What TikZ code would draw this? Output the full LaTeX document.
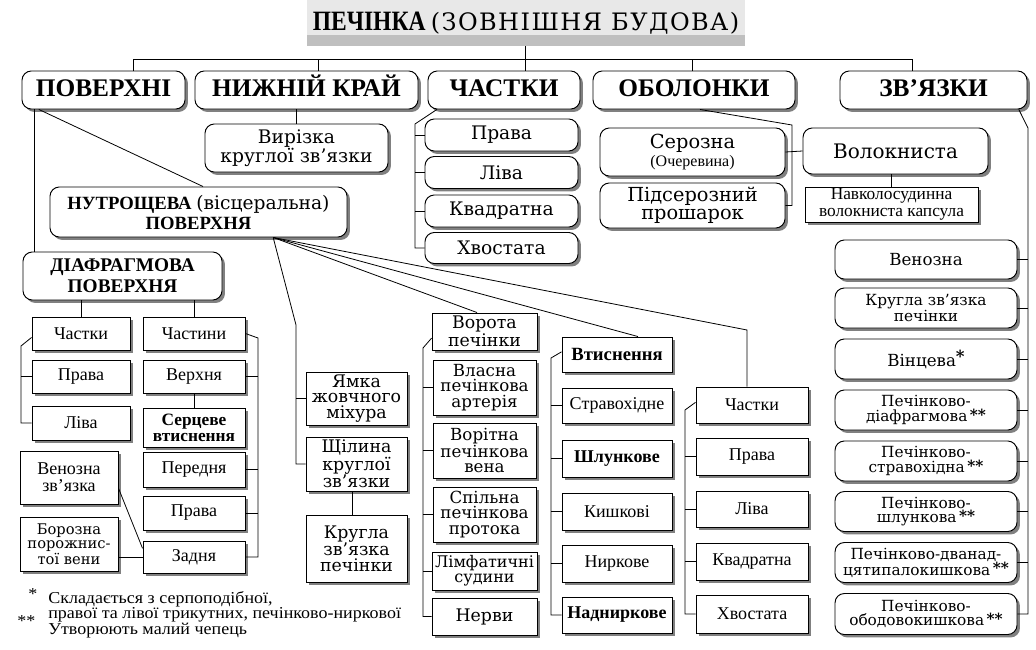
\documentclass[tikz,border=0pt]{standalone}
\usepackage{fontspec}
\setmainfont{Liberation Serif}
\newfontfamily\widefont{DejaVu Serif}
\newfontfamily\titlefont[FakeStretch=0.84]{Liberation Serif}
\newfontfamily\titlewide[LetterSpace=6]{DejaVu Serif}
\newfontfamily\notefont[FakeStretch=1.08]{Liberation Serif}
\usetikzlibrary{shadows}
\newcommand\px{0.75pt}
\newcommand\twostar{\raisebox{1pt}{\bfseries\,**}}

\begin{document}
\begin{tikzpicture}[x=\px, y=-\px,
    shade/.style={drop shadow={shadow xshift=2.2pt, shadow yshift=-2.2pt,
                  fill=black!50, opacity=1}},
    rbox/.style={draw, rounded corners=7pt, fill=white, line width=0.7pt,
                 inner sep=0pt, align=center, shade},
    sbox/.style={draw, fill=white, line width=0.7pt,
                 inner sep=0pt, align=center, shade},
    topbox/.style={rbox, font=\fontsize{19}{21}\selectfont\bfseries,
                   minimum height=38*\px, text height=13pt, text depth=3pt},
    widetxt/.style={font=\widefont\fontsize{14}{14}\selectfont},
    smallwide/.style={font=\widefont\fontsize{12.5}{11.5}\selectfont},
    ligtxt/.style={font=\widefont\fontsize{11.5}{11}\selectfont},
    romtxt/.style={font=\fontsize{13.5}{13}\selectfont},
    boldtxt/.style={font=\fontsize{13.5}{12}\selectfont\bfseries},
    note/.style={anchor=west, inner sep=0pt, font=\notefont\fontsize{12.5}{13}\selectfont},
    link/.style={draw, line width=0.6pt},
]
\useasboundingbox (0,0) rectangle (1036,650);

% --- title and first row ---------------------------------------------
\node[minimum width=438*\px, minimum height=46*\px, inner sep=0pt,
      fill=gray!18, font=\titlefont\fontsize{21}{23}\selectfont,
      path picture={\fill[gray!50] (path picture bounding box.south west)
        rectangle ([yshift=8pt]path picture bounding box.south east);}]
      (title) at (526,23)
      {\raisebox{2pt}{\textbf{ПЕЧІНКА}\hspace{4pt}{\titlewide\fontsize{18}{20}\selectfont(ЗОВНІШНЯ БУДОВА)}}};

\node[topbox, minimum width=163*\px] (surf)  at (103.5,90) {ПОВЕРХНІ};
\node[topbox, minimum width=223*\px] (edge)  at (306.5,90) {НИЖНІЙ КРАЙ};
\node[topbox, minimum width=152*\px] (lobes) at (504,90)   {ЧАСТКИ};
\node[topbox, minimum width=202*\px] (coats) at (694,90)   {ОБОЛОНКИ};
\node[topbox, minimum width=187*\px] (ligs)  at (933.5,90) {ЗВ’ЯЗКИ};

\coordinate (t1) at (133,71);
\coordinate (t2) at (318,71);
\coordinate (t3) at (525,71);
\coordinate (t4) at (692,71);
\coordinate (t5) at (912,71);
\draw[link] (t1) -- ++(0,-12) -| (t5);
\draw[link] (t2) -- ++(0,-12);
\draw[link] (t4) -- ++(0,-12);
\draw[link] (title.south -| t3) -- (t3);

% --- lower edge -------------------------------------------------------
\node[rbox, widetxt, minimum width=183*\px, minimum height=48*\px] (notch) at (296.5,148)
     {Вирізка\\круглої зв’язки};
\draw[link] (notch.north) -- (notch.north |- edge.south);

% --- lobes ------------------------------------------------------------
\node[rbox, widetxt, minimum width=153*\px, minimum height=32*\px] (lobR) at (501.5,135)   {Права};
\node[rbox, widetxt, minimum width=153*\px, minimum height=32*\px] (lobL) at (501.5,172.5) {Ліва};
\node[rbox, widetxt, minimum width=153*\px, minimum height=32*\px] (lobQ) at (501.5,211)   {Квадратна};
\node[rbox, widetxt, minimum width=153*\px, minimum height=31*\px] (lobC) at (501.5,248)   {Хвостата};
\coordinate (lbr) at (415,124);
\draw[link] ([xshift=7pt]lobes.south west) -- (lbr) |- (lobC.west);
\foreach \n in {lobR, lobL, lobQ}
  \draw[link] (\n.west) -- (\n.west -| lbr);

% --- coats ------------------------------------------------------------
\node[rbox, minimum width=185*\px, minimum height=48*\px] (seros) at (692.5,152)
     {{\widefont\fontsize{14.5}{14}\selectfont Серозна}\\[1.5pt]{\fontsize{12}{12}\selectfont (Очеревина)}};
\node[rbox, font=\widefont\fontsize{14.5}{13.5}\selectfont, minimum width=185*\px, minimum height=45*\px]
     (subser) at (692.5,205.5) {Підсерозний\\прошарок};
\node[rbox, font=\widefont\fontsize{15}{15}\selectfont, minimum width=185*\px, minimum height=46*\px]
     (fibr) at (895.5,151) {Волокниста};
\node[sbox, font=\fontsize{13}{12.5}\selectfont, minimum width=173*\px, minimum height=35*\px]
     (caps) at (891.5,204.5) {Навколосудинна\\волокниста капсула};
\coordinate (cbr) at (792,125);
\draw[link] ([xshift=4.5pt]coats.south) -- (cbr) |- (subser.east);
\draw[link] (seros.east) -- (fibr.west);
\draw[link] (caps.north) -- (caps.north |- fibr.south);

% --- ligaments --------------------------------------------------------
\node[rbox, font=\widefont\fontsize{12.5}{12}\selectfont, minimum width=182*\px, minimum height=39*\px]
     (lgV) at (926,259.5) {Венозна};
\node[rbox, ligtxt, minimum width=182*\px, minimum height=40*\px] (lgR) at (926,308)   {Кругла зв’язка\\печінки};
\node[rbox, font=\widefont\fontsize{12.5}{12}\selectfont, minimum width=182*\px, minimum height=40*\px]
     (lgC) at (926,359) {Вінцева\raisebox{3pt}{\bfseries *}};
\node[rbox, ligtxt, minimum width=182*\px, minimum height=40*\px] (lgD) at (926,410)   {Печінково-\\діафрагмова\twostar};
\node[rbox, ligtxt, minimum width=182*\px, minimum height=40*\px] (lgE) at (926,461)   {Печінково-\\стравохідна\twostar};
\node[rbox, ligtxt, minimum width=182*\px, minimum height=40*\px] (lgG) at (926,511.5) {Печінково-\\шлункова\twostar};
\node[rbox, ligtxt, minimum width=182*\px, minimum height=40*\px] (lgU) at (926,562.5) {Печінково-дванад-\\цятипалокишкова\twostar};
\node[rbox, ligtxt, minimum width=182*\px, minimum height=41*\px] (lgO) at (926,614)   {Печінково-\\ободовокишкова\twostar};
\coordinate (rbr) at (1028,128);
\draw[link] ([xshift=-6.5pt]ligs.south east) -- (rbr) |- (lgO.east);
\foreach \n in {lgV, lgR, lgC, lgD, lgE, lgG, lgU}
  \draw[link] (\n.east) -- (\n.east -| rbr);

% --- surfaces ---------------------------------------------------------
\node[rbox, minimum width=297*\px, minimum height=50*\px, font=\fontsize{14}{15}\selectfont\bfseries]
     (visc) at (198.5,212)
     {НУТРОЩЕВА {\mdseries\widefont\fontsize{14}{15}\selectfont (вісцеральна)}\\ПОВЕРХНЯ};
\node[rbox, minimum width=199*\px, minimum height=48*\px, font=\fontsize{14.5}{16}\selectfont\bfseries]
     (diaph) at (122.5,276) {ДІАФРАГМОВА\\ПОВЕРХНЯ};
\draw[link] ([xshift=9.5pt]surf.south west) -- ([xshift=9.5pt]surf.south west |- diaph.north);
\draw[link] ([xshift=13pt]surf.south west) -- ([xshift=3.4pt]visc.north);

% diaphragmatic surface
\node[sbox, romtxt, minimum width=98*\px, minimum height=33*\px] (dLob)  at (81,333.5)  {Частки};
\node[sbox, romtxt, minimum width=98*\px, minimum height=33*\px] (dLobR) at (81,376.5)  {Права};
\node[sbox, romtxt, minimum width=98*\px, minimum height=34*\px] (dLobL) at (81,423)    {Ліва};
\node[sbox, romtxt, minimum width=102*\px, minimum height=33*\px] (dPart) at (194,333.5) {Частини};
\node[sbox, romtxt, minimum width=102*\px, minimum height=33*\px] (dSup)  at (194,376.5) {Верхня};
\node[sbox, font=\fontsize{13}{12}\selectfont\bfseries, minimum width=102*\px, minimum height=39*\px]
     (dCard) at (194,427.5) {Серцеве\\втиснення};
\node[sbox, romtxt, minimum width=102*\px, minimum height=35*\px] (dAnt)  at (194,469.5) {Передня};
\node[sbox, romtxt, minimum width=102*\px, minimum height=34*\px] (dRgt)  at (194,513)   {Права};
\node[sbox, romtxt, minimum width=102*\px, minimum height=32*\px] (dPost) at (194,557)   {Задня};
\node[sbox, font=\fontsize{13.5}{13}\selectfont, minimum width=98*\px, minimum height=53*\px]
     (dVen) at (69,477.5) {Венозна\\зв’язка};
\node[sbox, font=\widefont\fontsize{11}{10.5}\selectfont, minimum width=98*\px, minimum height=54*\px]
     (dSulc) at (69,544) {Борозна\\порожнис-\\тої вени};
\draw[link] (dLob.north) -- (dLob.north |- diaph.south);
\draw[link] (dPart.north) -- (dPart.north |- diaph.south);
\coordinate (dlb) at (21,346);
\draw[link] ([yshift=-3pt]dLob.west) -- (dlb) |- (dLobL.west);
\draw[link] (dLobR.west) -- (dLobR.west -| dlb);
\coordinate (drb) at (258,338);
\draw[link] (dPart.east) -- (drb) |- (dPost.east);
\foreach \n in {dSup, dAnt, dRgt}
  \draw[link] (\n.east) -- (\n.east -| drb);
\draw[link] (dSup.south) -- (dCard.north);
\draw[link] ([yshift=-8pt]dVen.east) -- ([yshift=6.5pt]dPost.west);
\draw[link] (dPost.west) -- (dPost.west -| dSulc.east);

% visceral surface
\coordinate (vfoot) at ([xshift=56pt]visc.south);

\node[sbox, font=\widefont\fontsize{13}{11.5}\selectfont, minimum width=101*\px, minimum height=53*\px]
     (vFos) at (356.5,398.5) {Ямка\\жовчного\\міхура};
\node[sbox, font=\widefont\fontsize{13}{11.5}\selectfont, minimum width=101*\px, minimum height=54*\px]
     (vFis) at (356.5,464) {Щілина\\круглої\\зв’язки};
\node[sbox, font=\widefont\fontsize{13}{11.5}\selectfont, minimum width=101*\px, minimum height=67*\px]
     (vRnd) at (356.5,548.5) {Кругла\\зв’язка\\печінки};
\coordinate (vfb) at (296,325);
\draw[link] (vfoot) -- (vfb) |- (vFis.west);
\draw[link] (vFos.west) -- (vFos.west -| vfb);
\draw[link] ([xshift=-3pt]vRnd.north) -- ([xshift=-3pt]vFis.south);

\node[sbox, font=\widefont\fontsize{13}{11.5}\selectfont, minimum width=105*\px, minimum height=37*\px]
     (pGate) at (484.5,331.5) {Ворота\\печінки};
\node[sbox, smallwide, minimum width=103*\px, minimum height=55*\px] (pArt)  at (484.5,387.5) {Власна\\печінкова\\артерія};
\node[sbox, smallwide, minimum width=103*\px, minimum height=55*\px] (pVein) at (484.5,450.5) {Ворітна\\печінкова\\вена};
\node[sbox, smallwide, minimum width=103*\px, minimum height=55*\px] (pDuct) at (484.5,514.5) {Спільна\\печінкова\\протока};
\node[sbox, font=\widefont\fontsize{12}{11.5}\selectfont, minimum width=105*\px, minimum height=38*\px]
     (pLymp) at (484.5,571) {Лімфатичні\\судини};
\node[sbox, font=\widefont\fontsize{13}{13}\selectfont, minimum width=105*\px, minimum height=37*\px]
     (pNerv) at (484.5,616.5) {Нерви};
\draw[link] (vfoot) -- ([xshift=-5.6pt]pGate.north);
\coordinate (pgb) at (423,348);
\draw[link] ([yshift=-5pt]pGate.west) -- (pgb) |- (pNerv.west);
\foreach \n in {pArt, pVein, pDuct, pLymp}
  \draw[link] (\n.west) -- (\n.west -| pgb);

\node[sbox, font=\fontsize{14}{14}\selectfont\bfseries, minimum width=110*\px, minimum height=35*\px]
     (iMain) at (617,354.5) {Втиснення};
\node[sbox, romtxt,  minimum width=110*\px, minimum height=35*\px] (iOes)  at (617,405.5) {Стравохідне};
\node[sbox, boldtxt, minimum width=110*\px, minimum height=37*\px] (iGast) at (617,458.5) {Шлункове};
\node[sbox, romtxt,  minimum width=110*\px, minimum height=37*\px] (iCol)  at (617,511.5) {Кишкові};
\node[sbox, romtxt,  minimum width=110*\px, minimum height=37*\px] (iRen)  at (617,563.5) {Ниркове};
\node[sbox, boldtxt, minimum width=110*\px, minimum height=36*\px] (iSupr) at (617,615)   {Надниркове};
\draw[link] (vfoot) -- ([xshift=15.7pt]iMain.north);
\coordinate (ib) at (551,358);
\draw[link] ([yshift=2pt]iMain.west) -- (ib) |- (iSupr.west);
\foreach \n in {iOes, iGast, iCol, iRen}
  \draw[link] (\n.west) -- (\n.west -| ib);

\node[sbox, romtxt, minimum width=112*\px, minimum height=36*\px] (kLob) at (752,405)   {Частки};
\node[sbox, romtxt, minimum width=112*\px, minimum height=37*\px] (kR)   at (752,456.5) {Права};
\node[sbox, romtxt, minimum width=112*\px, minimum height=36*\px] (kL)   at (752,509)   {Ліва};
\node[sbox, romtxt, minimum width=112*\px, minimum height=37*\px] (kQ)   at (752,561.5) {Квадратна};
\node[sbox, romtxt, minimum width=112*\px, minimum height=38*\px] (kC)   at (752,614)   {Хвостата};
\coordinate (kbend) at (747,330);
\draw[link] (vfoot) -- (kbend) -- (kbend |- kLob.north);
\coordinate (kb) at (685,410);
\draw[link] ([yshift=2pt]kLob.west) -- (kb) |- (kC.west);
\foreach \n in {kR, kL, kQ}
  \draw[link] (\n.west) -- (\n.west -| kb);

% --- footnotes --------------------------------------------------------
\node[note] (fn1s) at (28,594) {*};
\node[note] (fn1a) at (48,599) {Складається з серпоподібної,};
\node[note] (fn1b) at (48,615) {правої та лівої трикутних, печінково-ниркової};
\node[note] (fn2s) at (17,621) {**};
\node[note] (fn2a) at (48,631) {Утворюють малий чепець};

\end{tikzpicture}
\end{document}
